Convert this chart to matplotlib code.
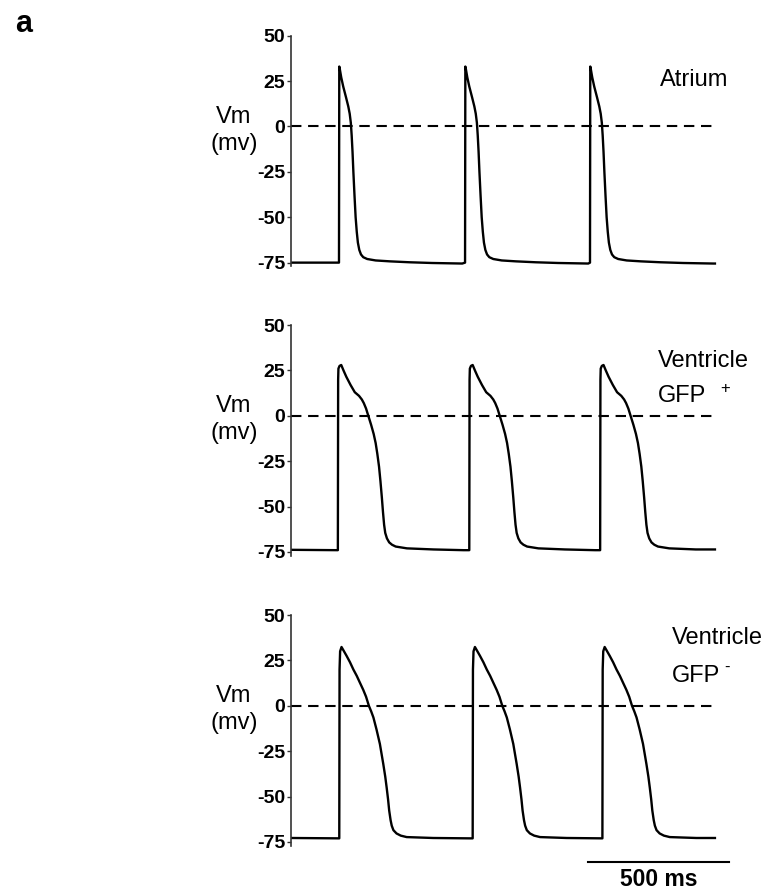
import matplotlib
matplotlib.use('Agg')
import matplotlib.pyplot as plt
import numpy as np

plt.rcParams['font.family'] = ['Liberation Sans', 'DejaVu Sans']

# action potential templates: time after upstroke (ms) and Vm (mV)
atrium_t = [0, 1, 3, 8, 15, 25, 33, 38, 42, 45, 48, 51, 55, 59, 63, 67, 72, 78, 86, 100, 130, 181, 250, 330, 437]
atrium_v = [-75, 33, 31.5, 27, 22, 16, 11, 7, 2, -5, -14, -25, -38, -50, -58, -64, -68, -70.5, -72, -73, -73.8, -74.3, -74.8, -75.2, -75.5]
atrium_onsets = [170, 617, 1060]
atrium_rest = -75

gfp_pos_t = [0, 1, 2, 6, 12, 20, 30, 45, 60, 75, 85, 92, 100, 109, 118, 127, 134, 140, 146, 151, 156, 160, 164, 168, 174, 182, 192, 205, 245, 339, 446]
gfp_pos_v = [-74, 20, 26, 27.5, 28, 25, 21.5, 17, 13, 11, 9, 7, 4, -0.5, -5, -10, -15, -21, -28, -36, -45, -53, -60, -64.5, -67.5, -69.7, -71, -72, -73, -73.6, -74]
gfp_pos_onsets = [166, 632, 1096]
gfp_pos_rest = -73.8

gfp_neg_t = [0, 1, 3, 8, 15, 26, 38, 50, 62, 73, 85, 95, 105, 113, 121, 132, 144, 156, 163, 168, 173, 177, 182, 186, 192, 203, 218, 239, 333, 461]
gfp_neg_v = [-73, 20, 30, 32.4, 30.5, 27.5, 24, 20, 16.5, 12.8, 8.8, 5, 0, -3, -6.4, -13, -21, -32, -39, -45, -51.5, -57.7, -63, -66, -68.5, -70.3, -71.5, -72.3, -72.8, -73]
gfp_neg_onsets = [171, 644, 1104]
gfp_neg_rest = -72.8

t_end = 1503
yticks = [-75, -50, -25, 0, 25, 50]
scale_ms = 500


def build_trace(t_tmpl, v_tmpl, onsets, rest):
    t = [0]
    v = [rest]
    for k, on in enumerate(onsets):
        nxt = onsets[k + 1] if k + 1 < len(onsets) else t_end
        for dt, vv in zip(t_tmpl, v_tmpl):
            if on + dt <= nxt:
                t.append(on + dt)
                v.append(vv)
    t.append(t_end)
    v.append(v[-1])
    return t, v


fig = plt.figure(figsize=(7.72, 8.92), dpi=100)

panels = [
    (atrium_t, atrium_v, atrium_onsets, atrium_rest, 0.7015),
    (gfp_pos_t, gfp_pos_v, gfp_pos_onsets, gfp_pos_rest, 0.3771),
    (gfp_neg_t, gfp_neg_v, gfp_neg_onsets, gfp_neg_rest, 0.0520),
]

axes = []
for t_tmpl, v_tmpl, onsets, rest, bottom in panels:
    ax = fig.add_axes([0.377, bottom, 0.552, 0.2585])
    t, v = build_trace(t_tmpl, v_tmpl, onsets, rest)
    ax.plot(t, v, color='black', lw=1.7, solid_joinstyle='round')
    ax.plot([0, 1511], [0, 0], color='black', lw=1.5, dashes=(5, 3.2))
    ax.set_xlim(0, 1511)
    ax.set_ylim(-77, 50)
    ax.set_yticks(yticks)
    ax.set_yticklabels([str(y) for y in yticks], fontsize=14, fontweight='bold')
    ax.tick_params(axis='y', length=3, width=1.0, pad=1, color='#333333')
    ax.set_xticks([])
    for s in ['top', 'right', 'bottom']:
        ax.spines[s].set_visible(False)
    ax.spines['left'].set_linewidth(1.2)
    ax.spines['left'].set_color('#333333')
    ax.spines['left'].set_bounds(-77, 50)
    ax.text(-202, -2, 'Vm\n(mv)', fontsize=17, ha='center', va='center',
            linespacing=1.3, clip_on=False)
    axes.append(ax)

ax1, ax2, ax3 = axes
ax1.text(1308, 25.6, 'Atrium', fontsize=17, ha='left', va='center', clip_on=False)

ax2.text(1301, 30, 'Ventricle', fontsize=17, ha='left', va='center', clip_on=False)
ax2.text(1301, 11, 'GFP', fontsize=17, ha='left', va='center', clip_on=False)
ax2.text(1539, 15, '+', fontsize=12, ha='center', va='center', clip_on=False)

ax3.text(1351, 37.4, 'Ventricle', fontsize=17, ha='left', va='center', clip_on=False)
ax3.text(1351, 16.5, 'GFP', fontsize=17, ha='left', va='center', clip_on=False)
ax3.text(1546, 21, '-', fontsize=12, ha='center', va='center', clip_on=False)

# scale bar
ax3.plot([1053, 1053 + scale_ms], [-86, -86], color='black', lw=1.5, clip_on=False)
ax3.text(1053 + scale_ms / 2, -95.5, '500 ms', fontsize=16.5, fontweight='bold',
         ha='center', va='center', clip_on=False)

fig.text(0.03, 0.973, 'a', fontsize=22, fontweight='bold', ha='center', va='center')

fig.savefig('out.png', dpi=100)
